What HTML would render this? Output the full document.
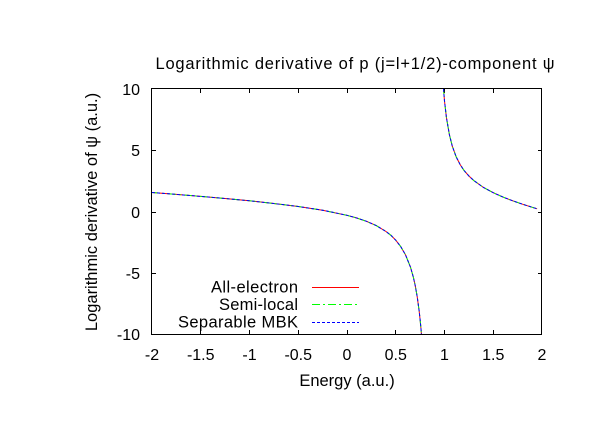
<!DOCTYPE html>
<html><head><meta charset="utf-8"><style>
html,body{margin:0;padding:0;background:#fff;}
svg{display:block;}
text{font-family:"Liberation Sans","DejaVu Sans",sans-serif;fill:#000;}
</style></head><body>
<svg width="612" height="428" viewBox="0 0 612 428" xmlns="http://www.w3.org/2000/svg">
<rect x="0" y="0" width="612" height="428" fill="#fff"/>
<text x="155.5" y="69" font-size="16.5" textLength="399" lengthAdjust="spacing">Logarithmic derivative of p (j=l+1/2)-component ψ</text>
<rect x="151.5" y="88.5" width="390" height="246" fill="none" stroke="#000" stroke-width="1"/>
<g stroke="#000" stroke-width="1">
<path d="M152,150.5h4M152,212.5h4M152,273.5h4M542,150.5h-4M542,212.5h-4M542,273.5h-4"/>
<path d="M200.5,334v-4M249.5,334v-4M298.5,334v-4M347.5,334v-4M395.5,334v-4M444.5,334v-4M493.5,334v-4"/>
<path d="M200.5,89v4M249.5,89v4M298.5,89v4M347.5,89v4M395.5,89v4M444.5,89v4M493.5,89v4"/>
</g>
<g font-size="16" text-anchor="end">
<text x="140" y="95">10</text>
<text x="140" y="156">5</text>
<text x="140" y="218">0</text>
<text x="140" y="279">-5</text>
<text x="140" y="340">-10</text>
</g>
<g font-size="16" text-anchor="middle">
<text x="152" y="360">-2</text>
<text x="200.75" y="360">-1.5</text>
<text x="249.5" y="360">-1</text>
<text x="298.25" y="360">-0.5</text>
<text x="347" y="360">0</text>
<text x="395.75" y="360">0.5</text>
<text x="444.5" y="360">1</text>
<text x="493.25" y="360">1.5</text>
<text x="542" y="360">2</text>
</g>
<text x="347" y="386" font-size="16.5" text-anchor="middle">Energy (a.u.)</text>
<text transform="translate(97,212) rotate(-90)" font-size="16.5" text-anchor="middle">Logarithmic derivative of ψ (a.u.)</text>
<defs>
<polyline id="L" fill="none" points="152,192.5 176.4,194.4 200.75,196.4 225.1,198.5 249.5,200.8 273.9,203.5 298.25,206.5 322.6,210.2 347,215.3 356.75,218 366.5,221.3 376.25,225.6 386,231.5 390.9,235.3 395.75,240.2 400.6,246.4 405.5,254.8 410.4,266.9 413.3,277 415.25,285.7 417.2,296.7 419.15,310.9 420.1,319.7 421.1,330 421.4,334"/>
<polyline id="R" fill="none" points="443.5,89 444.5,101 446.45,117.7 449.4,134.7 452.3,146.2 456.2,156.9 460.1,164.5 464,170.4 468.9,176 473.75,180.5 483.5,187.5 493.25,192.7 503,197.1 512.75,200.8 522.5,204.2 532.25,207.3 537.1,208.8"/>
</defs>
<g fill="none" stroke-width="1">
<use href="#L" stroke="#ff0000"/>
<use href="#R" stroke="#ff0000"/>
<use href="#L" stroke="#00ff00" stroke-dasharray="8 3 2 3"/>
<use href="#R" stroke="#00ff00" stroke-dasharray="8 3 2 3"/>
<use href="#L" stroke="#0000ff" stroke-dasharray="3 2"/>
<use href="#R" stroke="#0000ff" stroke-dasharray="3 2"/>
</g>
<g font-size="16.5" text-anchor="end">
<text x="298" y="292.5" textLength="87" lengthAdjust="spacing">All-electron</text>
<text x="298" y="310" textLength="79" lengthAdjust="spacing">Semi-local</text>
<text x="298" y="327.7" textLength="120" lengthAdjust="spacing">Separable MBK</text>
</g>
<g stroke-width="1">
<line x1="312" y1="287.5" x2="359" y2="287.5" stroke="#ff0000"/>
<line x1="312" y1="304.5" x2="359" y2="304.5" stroke="#00ff00" stroke-dasharray="8 3 2 3"/>
<line x1="312" y1="322.5" x2="359" y2="322.5" stroke="#0000ff" stroke-dasharray="3 2"/>
</g>
</svg>
</body></html>
